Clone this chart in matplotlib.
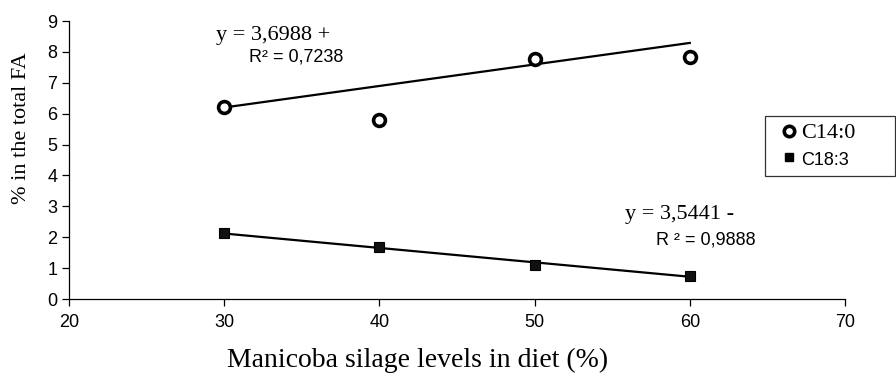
import matplotlib
matplotlib.use('Agg')
import matplotlib.pyplot as plt
from matplotlib.lines import Line2D

# data
levels = [30, 40, 50, 60]
c14 = [6.2, 5.78, 7.76, 7.82]
c18 = [2.14, 1.68, 1.1, 0.75]

# trend lines as drawn (values at 30 and 60)
trend_x = [30, 60]
trend_c14 = [6.2, 8.29]
trend_c18 = [2.12, 0.72]

xticks = [20, 30, 40, 50, 60, 70]
yticks = list(range(0, 10))

SERIF = 'Liberation Serif'
SANS = 'Liberation Sans'

fig = plt.figure(figsize=(8.96, 3.76), dpi=100)
ax = fig.add_axes([69 / 896, 77 / 376, 776 / 896, 278 / 376])

ax.plot(trend_x, trend_c14, color='black', lw=1.6, zorder=2)
ax.plot(trend_x, trend_c18, color='black', lw=1.6, zorder=2)
ax.plot(levels, c14, ls='none', marker='o', ms=8.5, mfc='white', mec='black',
        mew=2.6, zorder=3)
ax.plot(levels, c18, ls='none', marker='s', ms=7, mfc='#111111', mec='black',
        mew=0.8, zorder=3)

ax.set_xlim(20, 70)
ax.set_ylim(0, 9)
ax.set_xticks(xticks)
ax.set_yticks(yticks)
for s in ['top', 'right']:
    ax.spines[s].set_visible(False)
for s in ['left', 'bottom']:
    ax.spines[s].set_linewidth(0.9)
ax.tick_params(direction='out', length=5, width=0.9, labelsize=13)
for lab in ax.get_xticklabels() + ax.get_yticklabels():
    lab.set_fontfamily(SANS)
ax.tick_params(axis='x', pad=6)

ax.text(29.5, 8.54, 'y = 3,6988 +', family=SERIF, fontsize=16, va='center')
ax.text(31.6, 7.83, 'R² = 0,7238', family=SANS, fontsize=13, va='center')
ax.text(55.8, 2.72, 'y = 3,5441 -', family=SERIF, fontsize=16, va='center')
ax.text(57.8, 1.91, 'R ² = 0,9888', family=SANS, fontsize=13, va='center')

fig.text(22 / 896, 1 - 128 / 376, '% in the total FA', family=SERIF, fontsize=16,
         rotation=90, ha='center', va='center')
fig.text(418 / 896, 1 - 367 / 376, 'Manicoba silage levels in diet (%)',
         family=SERIF, fontsize=20, ha='center', va='baseline')

handles = [
    Line2D([], [], ls='none', marker='o', ms=7.5, mfc='white', mec='black', mew=2.6),
    Line2D([], [], ls='none', marker='s', ms=6, mfc='black', mec='black'),
]
leg = fig.legend(handles, ['C14:0', 'C18:3'], loc='upper left',
                 bbox_to_anchor=(765 / 896, 1 - 171 / 376, 130 / 896, 55 / 376),
                 mode='expand', frameon=True, fancybox=False, fontsize=15,
                 handlelength=1.6, handletextpad=-0.2,
                 borderpad=0.35, labelspacing=0.35, borderaxespad=0)
leg.get_frame().set_edgecolor('black')
leg.get_frame().set_linewidth(0.9)
t1, t2 = leg.get_texts()
t1.set_fontfamily(SERIF)
t1.set_fontsize(16)
t2.set_fontfamily(SANS)
t2.set_fontsize(13)

fig.savefig('out.png', dpi=100)
